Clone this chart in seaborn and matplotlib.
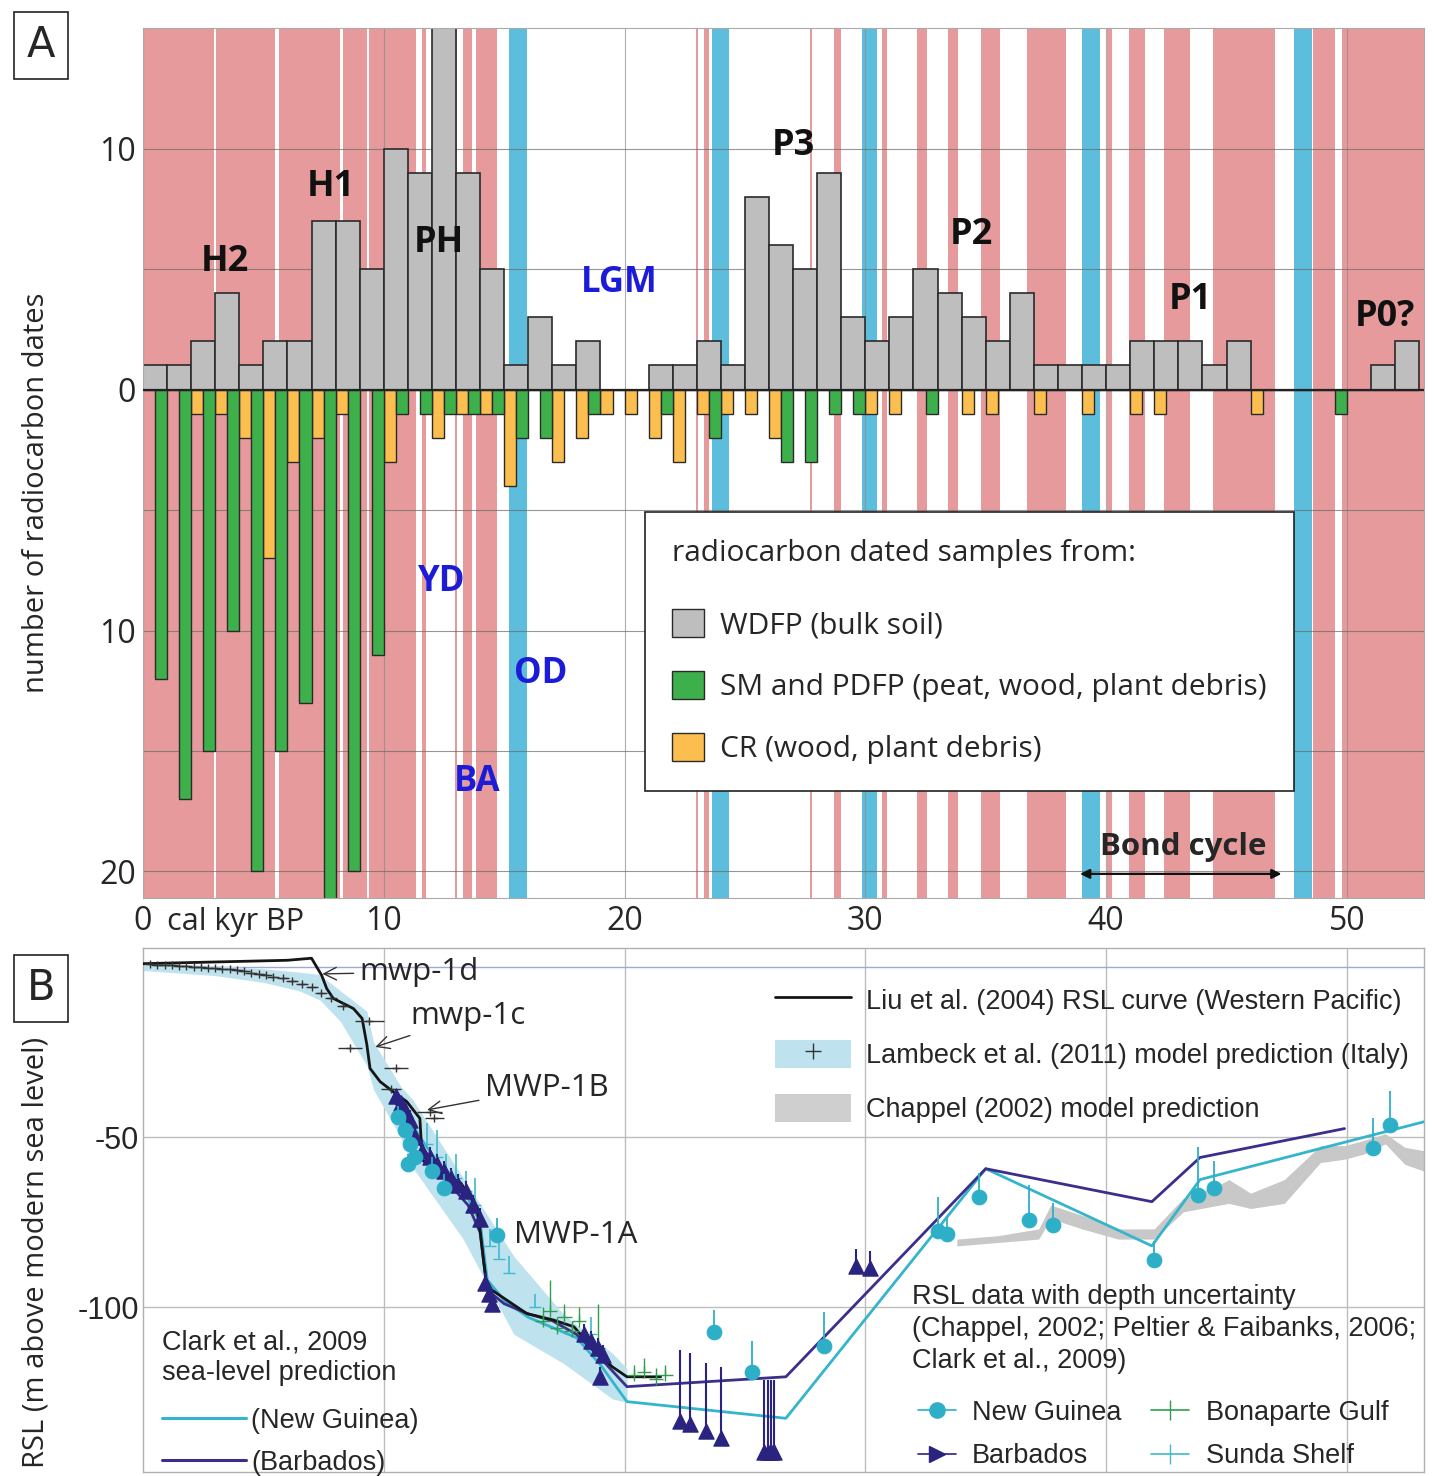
import numpy as np
import matplotlib
matplotlib.use("Agg")
import matplotlib.pyplot as plt
from matplotlib.patches import Patch
from matplotlib.lines import Line2D
import seaborn as sns

sns.set_theme(style="white")
plt.rcParams['font.family'] = ['Open Sans', 'DejaVu Sans']

# ---------------- panel A data (1 kyr bins, 0..52 cal kyr BP) ----------------
bins = np.arange(53)
wdfp = [1, 1, 2, 4, 1, 2, 2, 7, 7, 5, 10, 9, 15, 9, 5, 1, 3, 1, 2, 0, 0,
        1, 1, 2, 1, 8, 6, 5, 9, 3, 2, 3, 5, 4, 3, 2, 4, 1, 1, 1, 1, 2, 2, 2, 1, 2,
        0, 0, 0, 0, 0, 1, 2]
sm_pdfp = [12, 17, 15, 10, 20, 15, 13, 22, 20, 11, 1, 1, 1, 1, 1, 2, 2, 0, 1, 0, 0,
           1, 0, 2, 0, 0, 3, 3, 1, 1, 0, 0, 1, 0, 0, 0, 0, 0, 0, 0, 0, 0, 0, 0, 0, 0,
           0, 0, 0, 1, 0, 0, 0]
cr = [0, 0, 1, 1, 2, 7, 3, 2, 1, 0, 3, 0, 2, 1, 1, 4, 0, 3, 2, 1, 1,
      2, 3, 1, 1, 1, 2, 0, 0, 0, 1, 1, 0, 0, 1, 1, 0, 1, 0, 1, 0, 1, 1, 0, 0, 0,
      1, 0, 0, 0, 0, 0, 0]

# cold (red) and warm (blue) intervals
red_start = [0, 3.05, 5.65, 8.3, 9.4, 11.6, 12.95, 13.3, 13.85, 22.95, 23.3, 27.7, 28.7,
             30.7, 32.15, 33.45, 34.8, 36.7, 40.05, 40.95, 42.4, 44.45, 48.6, 49.8]
red_end = [2.93, 5.5, 8.2, 9.3, 11.35, 11.75, 13.05, 13.65, 14.7, 23.05, 23.5, 27.8, 29.0,
           30.9, 32.55, 33.85, 35.6, 38.35, 40.25, 41.6, 43.5, 47.0, 49.5, 53.3]
blue_start = [15.2, 23.65, 29.85, 39.0, 47.8]
blue_end = [15.95, 24.35, 30.5, 39.75, 48.55]

# ---------------- panel B data ----------------
liu_x = [0, 3, 6, 7.0, 7.42, 7.63, 7.9, 8.74, 9.1, 9.3, 9.43, 9.85, 10.4, 10.96, 11.5,
         11.6, 12.3, 13.2, 13.86, 14.0, 14.14, 14.28, 15.1, 15.94, 17.05, 17.9, 18.85,
         19.5, 20.1, 21.5]
liu_y = [1.0, 1.5, 2.0, 2.6, -2.4, -6.3, -9.2, -12.2, -15.1, -22.9, -29.8, -33.7, -36.7,
         -39.6, -44.5, -56.8, -59.7, -63.5, -70.5, -77.4, -86.2, -94, -97.9, -101.9,
         -103.8, -105.8, -113.6, -117.6, -120.5, -120.5]

clark_ng_x = [10.5, 11.5, 12.5, 13.5, 14.0, 14.3, 15.0, 16.0, 17.0, 18.0, 19.0, 20.1,
              26.7, 35.0, 41.9, 43.9, 53.2]
clark_ng_y = [-38, -50, -60, -68, -75, -92, -98, -103, -106, -109, -117, -127.8,
              -132.7, -59.3, -82, -62.5, -45.5]
clark_bb_x = [10.5, 11.5, 12.5, 13.5, 14.0, 14.3, 15.0, 16.0, 17.0, 18.0, 19.0, 20.1,
              26.7, 35.0, 41.9, 43.9, 49.9]
clark_bb_y = [-40, -52, -62, -70, -78, -95, -99, -102, -104, -108, -115, -123.4,
              -120.5, -59.3, -69, -56, -47.5]

lamb_x = [0, 3, 5, 6.5, 7.35, 8.2, 9.3, 9.57, 10.7, 11.2, 13.3, 15.4, 17.45, 19.5, 20.1]
lamb_lo = [-1, -2.5, -4.5, -7, -9.7, -16, -29, -36, -50, -59, -80, -108, -116.5, -127, -128]
lamb_hi = [1, 0.5, -0.5, -1.5, -2.2, -7, -13, -22, -35, -39, -62, -85, -102, -113.6, -118]

lamb_pts_x = [0.3, 0.6, 0.9, 1.2, 1.5, 1.8, 2.1, 2.4, 2.7, 3.0, 3.3, 3.6, 3.9, 4.2, 4.5,
              4.8, 5.1, 5.4, 5.8, 6.2, 6.6, 7.0, 7.4, 7.8, 8.3, 8.6, 9.4, 10.5, 10.3,
              11.9, 12.1]
lamb_pts_y = [0.8, 0.7, 0.6, 0.5, 0.4, 0.3, 0.1, 0.0, -0.2, -0.3, -0.5, -0.7, -1.0,
              -1.3, -1.6, -2.0, -2.4, -2.8, -3.3, -4.0, -5.0, -6.0, -7.5, -9.0, -11.5,
              -23.8, -16, -29.8, -36, -42.5, -44.3]
lamb_pts_xerr = [0.25] * 25 + [0.5, 0.6, 0.5, 0.4, 0.5, 0.4]

chap_x = [33.8, 35.5, 37.2, 37.7, 39.0, 40.5, 42.0, 43.2, 44.7, 45.1, 46.0, 47.4, 48.9,
          49.9, 50.7, 51.6, 52.4, 53.2]
chap_lo = [-82, -81, -80, -74, -77, -80, -80, -72, -70, -69.5, -71, -69.5, -57.5,
           -56.5, -55, -52, -58, -60]
chap_hi = [-80, -79, -77, -70, -73, -77, -77, -68, -64, -62.5, -66.5, -62.5, -52.5,
           -52.5, -51, -49, -53, -54]

ng_x = [10.6, 10.9, 11.1, 11.3, 11.0, 12.0, 12.5, 14.7, 23.7, 25.3, 28.3, 33.0, 33.4,
        34.7, 36.8, 37.8, 42.0, 43.8, 44.5, 51.1, 51.8]
ng_y = [-44, -48, -52, -56, -58, -60, -65, -78.8, -107.3, -119, -111.3, -77.5, -78.5,
        -67.5, -74.5, -76, -86.2, -67, -65, -53.3, -46.5]
ng_err = [3, 3, 3, 3, 3, 4, 4, 5, 6.5, 9, 10, 10, 5, 7, 10.5, 6.5, 5.5, 14, 8, 9, 10]

bar_x = [10.5, 10.7, 10.9, 11.1, 11.3, 11.6, 11.9, 12.2, 12.5, 12.8, 13.1, 13.4, 13.7,
         14.0, 14.2, 14.35, 14.5, 18.3, 18.6, 18.9, 19.1, 19.0, 22.3, 22.7, 23.4, 24.0,
         25.8, 25.95, 26.1, 26.2, 29.6, 30.2]
bar_y = [-38, -40, -42, -45, -50, -54, -56, -58, -60, -62, -64, -66, -70, -74, -93, -96,
         -99, -108, -110, -112, -114, -120.6, -133.5, -134.5, -136.5, -138.5, -142.5,
         -142.5, -142.5, -142.5, -88, -88.5]
bar_err = [2, 2, 2, 3, 3, 3, 3, 3, 3, 3, 3, 3, 3, 3, 3, 3, 3, 3, 3, 3, 3, 3,
           21, 21, 20, 21, 21, 21, 21, 21, 5, 5]

bon_x = [16.6, 16.9, 17.2, 17.5, 17.8, 18.1, 18.9, 20.4, 20.8, 21.3, 21.7]
bon_y = [-104, -101, -106, -103, -107, -104, -112, -120, -119, -121, -120]
bon_err = [4, 9, 3, 4, 3, 4, 13, 3, 4, 3, 3]

sun_x = [11.8, 12.2, 12.6, 13.0, 13.4, 13.8, 14.4, 14.8, 15.2, 16.3, 18.6]
sun_y = [-52, -56, -60, -62, -66, -70, -82, -86, -90, -100, -108]
sun_err = [6, 8, 5, 7, 6, 8, 5, 6, 5, 4, 5]

# colours
RED = '#E69A9B'
BLUE = '#5CBEDC'
GRAY = '#BEBEBE'
GREEN = '#3DB04B'
ORANGE = '#FDBE50'
EDGE = '#2a2a2a'
CYAN = '#2EAFC8'
NAVY = '#2A2380'
fontB = ['Liberation Sans', 'DejaVu Sans']

fig = plt.figure(figsize=(14.34, 14.76), dpi=100)
axA = fig.add_axes([0.0997, 0.3916, 0.8933, 0.5894])
axB = fig.add_axes([0.0997, 0.0027, 0.8933, 0.3550])

# ================= panel A =================
for a, b in zip(red_start, red_end):
    axA.axvspan(a, b, color=RED, lw=0, zorder=0.1)
for a, b in zip(blue_start, blue_end):
    axA.axvspan(a, b, color=BLUE, lw=0, zorder=0.1)

axA.bar(bins, wdfp, width=1.0, align='edge', color=GRAY,
        edgecolor=EDGE, linewidth=1.2, zorder=2)
axA.bar(bins, -np.array(cr), width=0.5, align='edge', color=ORANGE,
        edgecolor=EDGE, linewidth=1.0, zorder=2)
axA.bar(bins + 0.5, -np.array(sm_pdfp), width=0.5, align='edge', color=GREEN,
        edgecolor=EDGE, linewidth=1.0, zorder=2)
axA.axhline(0, color='#222222', lw=1.6, zorder=3)

axA.set_xlim(0, 53.2)
axA.set_ylim(-21.1, 15.0)
axA.set_yticks([-15, -5, 5], minor=True)
axA.set_yticks([-20, -10, 0, 10])
axA.set_yticklabels(['20', '10', '0', '10'])
axA.set_xticks([0, 10, 20, 30, 40, 50])
axA.set_xticklabels(['0', '10', '20', '30', '40', '50'])
axA.tick_params(axis='both', which='both', length=0, labelsize=23, pad=5)
axA.grid(True, which='both', axis='y', color='#6a6a6a', lw=0.8, alpha=0.7)
axA.grid(True, which='major', axis='x', color='#8a8a8a', lw=0.8, alpha=0.7)
for ln in axA.get_ygridlines() + axA.get_xgridlines():
    ln.set_zorder(1)
axA.set_ylabel('number of radiocarbon dates', fontsize=21)
axA.yaxis.set_label_coords(-0.072, 0.466)
axA.set_xlabel('')
axA.text(1.0, -0.01, 'cal kyr BP', transform=axA.get_xaxis_transform(),
         fontsize=22, ha='left', va='top')
for s in axA.spines.values():
    s.set_color('#aaaaaa')
    s.set_linewidth(0.8)

peaks = [('H2', 3.4, 5.3), ('H1', 7.8, 8.4), ('PH', 12.3, 6.1), ('P3', 27.0, 10.1),
         ('P2', 34.4, 6.4), ('P1', 43.5, 3.7), ('P0?', 51.6, 3.0)]
for lab, x, y in peaks:
    axA.text(x, y, lab, fontsize=26, fontweight='bold', ha='center', va='center',
             color='#111111', zorder=4)
events = [('LGM', 19.8, 4.4), ('YD', 12.4, -8.0), ('OD', 16.5, -11.8), ('BA', 13.9, -16.3)]
for lab, x, y in events:
    axA.text(x, y, lab, fontsize=25, fontweight='bold', ha='center', va='center',
             color='#1c1cd8', zorder=4)

axA.annotate('', xy=(38.8, -20.1), xytext=(47.4, -20.1),
             arrowprops=dict(arrowstyle='<|-|>', lw=1.6, color='#111111',
                             mutation_scale=14), zorder=4)
axA.text(43.2, -19.0, 'Bond cycle', fontsize=22.5, fontweight='bold', ha='center',
         va='center', zorder=4)

handlesA = [Patch(facecolor=GRAY, edgecolor=EDGE, label='WDFP (bulk soil)'),
            Patch(facecolor=GREEN, edgecolor=EDGE, label='SM and PDFP (peat, wood, plant debris)'),
            Patch(facecolor=ORANGE, edgecolor=EDGE, label='CR (wood, plant debris)')]
legA = axA.legend(handles=handlesA, title='radiocarbon dated samples from:',
                  loc='upper left', bbox_to_anchor=(0.392, 0.444), fontsize=21.5,
                  title_fontsize=21.5, frameon=True, fancybox=False, framealpha=1,
                  edgecolor='#222222', handlelength=1.07, handleheight=1.07,
                  labelspacing=1.02, borderpad=0.9, alignment='left',
                  handletextpad=0.55, borderaxespad=0)
legA.get_frame().set_linewidth(1.2)
legA._legend_box.sep = 30  # extra room below the title, in points
legA.set_zorder(5)

# ================= panel B =================
axB.fill_between(lamb_x, lamb_lo, lamb_hi, color='#BFE3EE', lw=0, zorder=1)
axB.fill_between(chap_x, chap_lo, chap_hi, color='#C8C8C8', lw=0, zorder=1)

sns.lineplot(x=clark_ng_x, y=clark_ng_y, color='#35B5CC', lw=2, ax=axB, zorder=3,
             sort=False, estimator=None)
sns.lineplot(x=clark_bb_x, y=clark_bb_y, color='#3B2F8C', lw=2, ax=axB, zorder=3,
             sort=False, estimator=None)
sns.lineplot(x=liu_x, y=liu_y, color='#151515', lw=2, ax=axB, zorder=4,
             sort=False, estimator=None)

axB.errorbar(lamb_pts_x, lamb_pts_y, xerr=lamb_pts_xerr, fmt='+', color='#333333',
             ms=6, lw=0.8, elinewidth=1.0, zorder=5)
axB.errorbar(sun_x, sun_y, yerr=[np.zeros(len(sun_err)), sun_err], fmt='_',
             color='#3FBACB', ms=8, elinewidth=1.2, zorder=5)
axB.errorbar(bon_x, bon_y, yerr=[np.zeros(len(bon_err)), bon_err], xerr=0.3,
             fmt='|', color='#2E9E4E', ms=9, elinewidth=1.0, zorder=5)
axB.errorbar(bar_x, bar_y, yerr=[np.zeros(len(bar_err)), bar_err], fmt='none',
             ecolor=NAVY, elinewidth=1.5, zorder=5)
sns.scatterplot(x=bar_x, y=bar_y, marker='^', color=NAVY, s=120, edgecolor=NAVY,
                ax=axB, zorder=6)
axB.errorbar(ng_x, ng_y, yerr=[np.zeros(len(ng_err)), ng_err], fmt='none',
             ecolor=CYAN, elinewidth=1.3, zorder=6)
sns.scatterplot(x=ng_x, y=ng_y, marker='o', color=CYAN, s=110, edgecolor=CYAN,
                ax=axB, zorder=7)

axB.set_xlim(0, 53.2)
axB.set_ylim(-148.5, 5.6)
axB.set_xticks([10, 20, 30, 40, 50])
axB.set_xticklabels([])
axB.set_yticks([-100, -50, 0])
axB.set_yticklabels(['-100', '-50', ''], family=fontB)
axB.tick_params(axis='both', length=0, labelsize=22, pad=3)
axB.grid(True, color='#bdbdbd', lw=1.0)
axB.get_ygridlines()[2].set_color('#9fa8d8')
axB.set_axisbelow(True)
axB.set_ylabel('RSL (m above modern sea level)', fontsize=21)
axB.yaxis.set_label_coords(-0.072, 0.42)
axB.set_xlabel('')
for s in axB.spines.values():
    s.set_color('#b0b0b0')
    s.set_linewidth(1.0)

ann = [('mwp-1d', (9.0, -1.5), (7.45, -2.0)), ('mwp-1c', (11.1, -14.5), (9.65, -23.5)),
       ('MWP-1B', (14.2, -35.5), (11.8, -42.0))]
for lab, (tx, ty), (px, py) in ann:
    axB.annotate(lab, xy=(px, py), xytext=(tx, ty), fontsize=22.5, ha='left', va='center',
                 arrowprops=dict(arrowstyle='->', lw=1.0, color='#333333',
                                 shrinkA=2, shrinkB=0), zorder=8)
axB.text(15.4, -78.8, 'MWP-1A', fontsize=22.5, ha='left', va='center', zorder=8)

hB1 = [Line2D([], [], color='#151515', lw=2),
       (Patch(facecolor='#BFE3EE', edgecolor='none'),
        Line2D([], [], color='#333333', marker='+', ls='none', ms=12)),
       Patch(facecolor='#CFCFCF', edgecolor='none')]
legB1 = axB.legend(hB1, ['Liu et al. (2004) RSL curve (Western Pacific)',
                         'Lambeck et al. (2011) model prediction (Italy)',
                         'Chappel (2002) model prediction'],
                   loc='upper left', bbox_to_anchor=(0.4934, 0.928), frameon=False,
                   prop={'family': fontB, 'size': 19.5}, handlelength=2.8,
                   handleheight=1.2, labelspacing=0.93, handletextpad=0.55,
                   borderaxespad=0, borderpad=0)
axB.add_artist(legB1)

axB.text(0.0148, 0.272, 'Clark et al., 2009\nsea-level prediction', transform=axB.transAxes,
         family=fontB, fontsize=19.5, ha='left', va='top', linespacing=1.25)
hB2 = [Line2D([], [], color='#35B5CC', lw=2.2), Line2D([], [], color='#3B2F8C', lw=2.2)]
legB2 = axB.legend(hB2, ['(New Guinea)', '(Barbados)'],
                   loc='upper left', bbox_to_anchor=(0.0148, 0.123), frameon=False,
                   prop={'family': fontB, 'size': 19.5},
                   handlelength=3.1, labelspacing=0.6, handletextpad=0.2,
                   borderaxespad=0, borderpad=0)
axB.add_artist(legB2)

axB.text(0.6003, 0.358, 'RSL data with depth uncertainty\n(Chappel, 2002; Peltier & Faibanks, 2006;\nClark et al., 2009)',
         transform=axB.transAxes, family=fontB, fontsize=19.5, ha='left', va='top',
         linespacing=1.3)
hB3 = [Line2D([], [], color=CYAN, marker='o', ms=11, lw=1.2),
       Line2D([], [], color=NAVY, marker='>', ms=11, lw=1.2),
       Line2D([], [], color='#2E9E4E', marker='|', ms=14, lw=1.2),
       Line2D([], [], color='#3FBACB', marker='|', ms=14, lw=1.2)]
legB3 = axB.legend(hB3, ['New Guinea', 'Barbados', 'Bonaparte Gulf', 'Sunda Shelf'],
                   ncol=2, loc='upper left', bbox_to_anchor=(0.605, 0.138), frameon=False,
                   prop={'family': fontB, 'size': 19.5},
                   handlelength=1.4, labelspacing=0.65, handletextpad=0.6, columnspacing=1.1,
                   borderaxespad=0, borderpad=0)

# panel letters
for letter, yy in [('A', 0.9695), ('B', 0.3306)]:
    fig.text(0.0286, yy, letter, fontsize=30, ha='center', va='center',
             family=['DejaVu Sans'],
             bbox=dict(boxstyle='square,pad=0.3', facecolor='white', edgecolor='#222222', lw=1.2))

fig.savefig('out.png', dpi=100)
